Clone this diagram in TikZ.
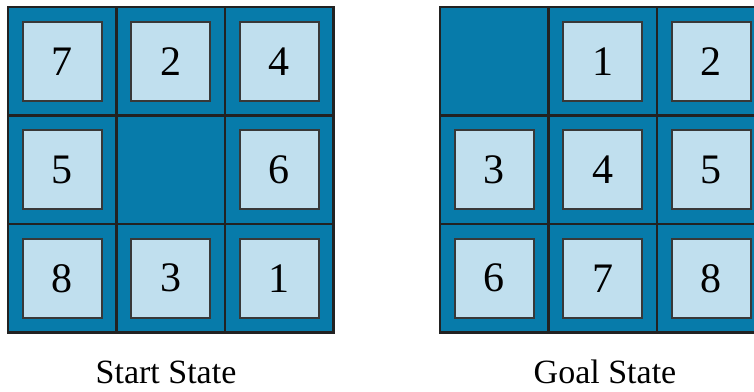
\documentclass[tikz,border=0pt]{standalone}
\usepackage{fontspec}
\setmainfont{Liberation Serif}
\definecolor{boardblue}{HTML}{077BAA}
\definecolor{tileblue}{HTML}{C0DFEE}
\definecolor{edge}{HTML}{222222}
\begin{document}
\begin{tikzpicture}[x=1pt,y=-1pt,
  cellbox/.style={draw=edge,line width=2.4pt,fill=boardblue,minimum size=108.5pt,inner sep=0pt,outer sep=0pt},
  tilebox/.style={draw=edge!90,line width=1.8pt,fill=tileblue,minimum size=79pt,inner sep=0pt,
    font=\fontsize{42}{42}\selectfont},
  caption/.style={anchor=base,inner sep=0pt,text depth=0pt,font=\fontsize{34}{34}\selectfont}]
\useasboundingbox (0,0) rectangle (754,391);
% Start state
\foreach \r in {0,1,2}{\foreach \c in {0,1,2}{
  \node[cellbox] (s\r\c) at ({8+108.5*(\c+0.5)},{7+108.5*(\r+0.5)}) {};
}}
\foreach \r/\c/\v in {0/0/7,0/1/2,0/2/4,1/0/5,1/2/6,2/0/8,2/1/3,2/2/1}{
  \node[tilebox] (st\r\c) at (s\r\c) {\v};
}
% Goal state
\foreach \r in {0,1,2}{\foreach \c in {0,1,2}{
  \node[cellbox] (g\r\c) at ({440+108.5*(\c+0.5)},{7+108.5*(\r+0.5)}) {};
}}
\foreach \r/\c/\v in {0/1/1,0/2/2,1/0/3,1/1/4,1/2/5,2/0/6,2/1/7,2/2/8}{
  \node[tilebox] (gt\r\c) at (g\r\c) {\v};
}
\node[caption] (startlbl) at (166,383) {Start State};
\node[caption] (goallbl) at (605,383) {Goal State};
\end{tikzpicture}
\end{document}
